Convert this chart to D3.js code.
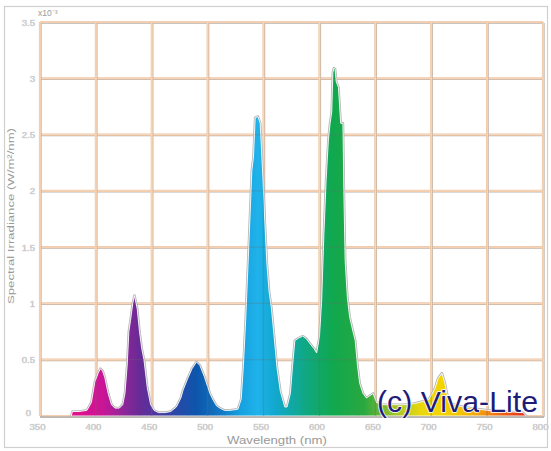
<!DOCTYPE html>
<html>
<head>
<meta charset="utf-8">
<script src="https://cdn.jsdelivr.net/npm/d3@7/dist/d3.min.js"></script>
<style>
html,body{margin:0;padding:0;background:#fff;}
svg{display:block;}
</style>
</head>
<body>
<svg id="chart" width="551" height="451"></svg>
<script>
// ---- data ----
const wavelengths = [378,379,385,392,396,399,402,404,406,408,411,414,417,421,424,426,428,429.5,431,433,434.5,437,439,441,443,446,449,452,456,462,467,472,476,478,482,486,490,493,497,500,502,505,508,511,515,520,527,530,532,534,536,538,539.5,541,542.5,545,547,549.5,551,553,555,557,559.5,562,565,569,571,574,576,578,581,585,588,591,595,597.5,600,602,604,606,608,609.5,611,612,613,614,615,617,619,621,622,623,625,627,630,632,634,636,639,642,645,648,651,656,665,675,685,693,698,701,703.5,706,709.5,712,714,716,718.5,724,735,750,765,782,785];
const power =       [0,0.04,0.04,0.05,0.12,0.3,0.38,0.42,0.4,0.34,0.2,0.1,0.07,0.07,0.1,0.2,0.45,0.75,0.85,1.0,1.07,0.95,0.75,0.6,0.5,0.25,0.1,0.05,0.03,0.03,0.04,0.08,0.16,0.23,0.33,0.42,0.48,0.45,0.35,0.26,0.2,0.14,0.09,0.07,0.05,0.05,0.06,0.15,0.45,0.85,1.32,1.8,2.18,2.3,2.65,2.66,2.6,2.1,1.75,1.35,1.1,0.96,0.7,0.43,0.22,0.08,0.08,0.2,0.45,0.67,0.69,0.71,0.69,0.65,0.6,0.56,0.7,1.03,1.62,2.1,2.45,2.6,2.7,3.05,3.09,3.08,2.97,2.92,2.6,2.6,1.9,1.38,1.05,0.88,0.75,0.67,0.45,0.29,0.2,0.16,0.18,0.2,0.12,0.1,0.1,0.1,0.11,0.13,0.15,0.2,0.25,0.33,0.38,0.3,0.2,0.13,0.11,0.09,0.07,0.05,0.04,0.03,0];
const xTicks = [350,400,450,500,550,600,650,700,750,800];
const yTicks = [0,0.5,1,1.5,2,2.5,3,3.5];
const yTickLabels = ["0","0.5","1","1.5","2","2.5","3","3.5"];
const xTitle = "Wavelength (nm)";
const yTitle = "Spectral Irradiance (W/m²/nm)";
const exponentLabel = "x10⁻³";
const credit = "(c) Viva-Lite";
// colour of light by wavelength (style)
const gradWl =    [380,405,425,438,455,472,490,512,530,545,560,575,590,612,640,658,675,692,710,728,745,765,785];
const gradColor = ["#e0108a","#cc1496","#8e2698","#6a2a96","#4a36a0","#2a48a8","#0c56ac","#1278c4","#16a2e0","#20b2ea","#12a8d0","#10a8a6","#10a87c","#10a84e","#2aa840","#7ab832","#bccc22","#ecd808","#f2d400","#f6c000","#f49a10","#ec6014","#e43020"];

// ---- layout ----
const svg = d3.select("#chart");
const L = 40, R = 543, T = 22, B = 416;
const x = d3.scaleLinear().domain([350,800]).range([L,R]);
const y = d3.scaleLinear().domain([0,3.5]).range([B,T]);

// outer frame
svg.append("rect").attr("x",4.5).attr("y",6.5).attr("width",543).attr("height",441)
  .attr("fill","#fff").attr("stroke","#cfcfcf").attr("stroke-width",1.2);

const defs = svg.append("defs");
const grad = defs.append("linearGradient").attr("id","spec")
  .attr("gradientUnits","userSpaceOnUse")
  .attr("x1",x(gradWl[0])).attr("x2",x(gradWl[gradWl.length-1])).attr("y1",0).attr("y2",0);
const span = x(gradWl[gradWl.length-1]) - x(gradWl[0]);
gradWl.forEach((w,i)=>{
  grad.append("stop").attr("offset",(x(w)-x(gradWl[0]))/span).attr("stop-color",gradColor[i]);
});

// grid
const grid = svg.append("g");
function gridLine(x1,y1,x2,y2){
  grid.append("line").attr("x1",x1+1).attr("y1",y1+1).attr("x2",x2+1).attr("y2",y2+1)
    .attr("stroke","#b9b2ac").attr("stroke-width",1.3);
  grid.append("line").attr("x1",x1).attr("y1",y1).attr("x2",x2).attr("y2",y2)
    .attr("stroke","#efc6a4").attr("stroke-width",2.2);
  grid.append("line").attr("x1",x1).attr("y1",y1).attr("x2",x2).attr("y2",y2)
    .attr("stroke","#fbe4d2").attr("stroke-width",0.6);
}
yTicks.forEach(v=>gridLine(L,y(v),R,y(v)));
xTicks.forEach(v=>gridLine(x(v),T,x(v),B));

// spectrum
const pts = wavelengths.map((w,i)=>[w,power[i]]);
const area = d3.area().x(d=>x(d[0])).y0(y(0)).y1(d=>y(d[1])).curve(d3.curveLinear);
const line = d3.line().x(d=>x(d[0])).y(d=>y(d[1])).curve(d3.curveLinear);
svg.append("path").attr("d",area(pts)).attr("fill","none").attr("stroke","#b4b4b4").attr("stroke-width",2.6).attr("stroke-linejoin","round");
svg.append("path").attr("d",area(pts)).attr("fill","url(#spec)").attr("stroke","#ffffff").attr("stroke-width",0.9).attr("stroke-linejoin","round");
// faint grid lines visible through the fill
defs.append("clipPath").attr("id","specClip").append("path").attr("d",area(pts));
const through = svg.append("g").attr("clip-path","url(#specClip)");
xTicks.forEach(v=>through.append("line").attr("x1",x(v)).attr("x2",x(v)).attr("y1",T).attr("y2",B)
  .attr("stroke","#6a6a6a").attr("stroke-opacity",0.35).attr("stroke-width",1.2));
yTicks.slice(1).forEach(v=>through.append("line").attr("x1",L).attr("x2",R).attr("y1",y(v)).attr("y2",y(v))
  .attr("stroke","#6a6a6a").attr("stroke-opacity",0.25).attr("stroke-width",1.2));

// bottom axis line
svg.append("line").attr("x1",L).attr("x2",R+1).attr("y1",B+1).attr("y2",B+1).attr("stroke","#b9b2ac").attr("stroke-width",1.3);

// axes labels
const fontFam = "'Liberation Sans', Arial, sans-serif";
const xAxis = d3.axisBottom(x).tickValues(xTicks).tickSize(0).tickPadding(7).tickFormat(d3.format("d"));
const gx = svg.append("g").attr("transform",`translate(-3,${B})`).call(xAxis);
gx.select(".domain").remove();
gx.selectAll("text").attr("fill","#9a9a9a").attr("font-size",9.5).attr("font-family",fontFam)
  .attr("stroke","#d8d8d8").attr("stroke-width",0.5);

const yAxis = d3.axisLeft(y).tickValues(yTicks).tickSize(0).tickPadding(5).tickFormat((d,i)=>yTickLabels[i]);
const gy = svg.append("g").attr("transform",`translate(${L},0)`).call(yAxis);
gy.select(".domain").remove();
gy.selectAll("text").attr("fill","#9a9a9a").attr("font-size",9.5).attr("font-family",fontFam)
  .attr("stroke","#d8d8d8").attr("stroke-width",0.5);
gy.selectAll(".tick").filter(d=>d===0).select("text").attr("dy","-0.1em").attr("dx",-4);

svg.append("text").attr("x",38).attr("y",16).text(exponentLabel)
  .attr("fill","#9a9a9a").attr("font-size",8.5).attr("font-family",fontFam);

svg.append("text").attr("x",277).attr("y",444).attr("text-anchor","middle").text(xTitle)
  .attr("fill","#999").attr("font-size",10).attr("font-family",fontFam)
  .attr("textLength",100).attr("lengthAdjust","spacingAndGlyphs");

svg.append("text").attr("transform","translate(14,216) rotate(-90)").attr("text-anchor","middle").text(yTitle)
  .attr("fill","#999").attr("font-size",9.5).attr("font-family",fontFam)
  .attr("textLength",176).attr("lengthAdjust","spacingAndGlyphs");

// credit
svg.append("text").attr("x",377).attr("y",412).text(credit)
  .attr("fill","#1e1c78").attr("font-size",29).attr("font-family",fontFam)
  .attr("textLength",161).attr("lengthAdjust","spacingAndGlyphs")
  .attr("stroke","#ffffff").attr("stroke-width",1.5).attr("paint-order","stroke");
</script>
</body>
</html>
